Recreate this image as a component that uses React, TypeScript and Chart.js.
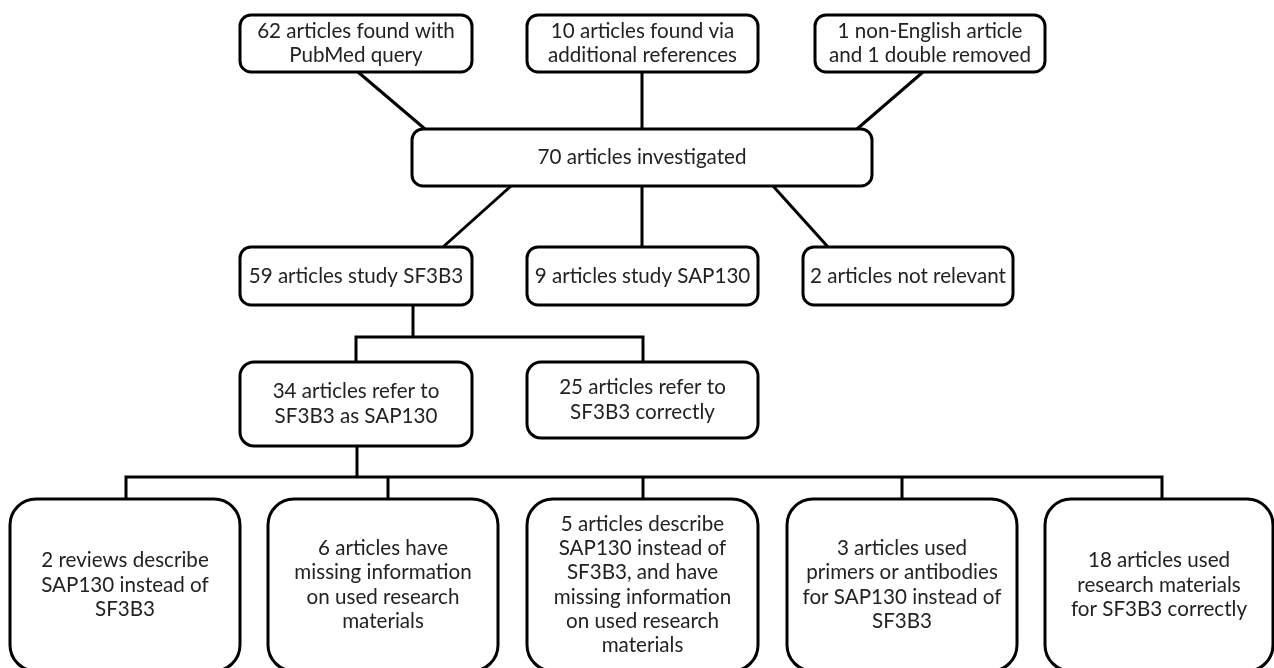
import React, { useEffect, useRef } from "react";
import { Chart, registerables } from "chart.js";

Chart.register(...registerables);

// ---- content ----
const sourceLabels = [
  "62 articles found with\nPubMed query",
  "10 articles found via\nadditional references",
  "1 non-English article\nand 1 double removed",
];
const poolLabel = "70 articles investigated";
const topicLabels = [
  "59 articles study SF3B3",
  "9 articles study SAP130",
  "2 articles not relevant",
];
const namingLabels = [
  "34 articles refer to\nSF3B3 as SAP130",
  "25 articles refer to\nSF3B3 correctly",
];
const outcomeLabels = [
  "2 reviews describe\nSAP130 instead of\nSF3B3",
  "6 articles have\nmissing information\non used research\nmaterials",
  "5 articles describe\nSAP130 instead of\nSF3B3, and have\nmissing information\non used research\nmaterials",
  "3 articles used\nprimers or antibodies\nfor SAP130 instead of\nSF3B3",
  "18 articles used\nresearch materials\nfor SF3B3 correctly",
];

// ---- layout (data units = canvas pixels of the 1274x668 frame) ----
type Box = { x0: number; x1: number; y0: number; y1: number; r: number; text: string };

const boxes: Box[] = [
  { x0: 240, x1: 472, y0: 15, y1: 72, r: 11, text: sourceLabels[0] },
  { x0: 527, x1: 758, y0: 15, y1: 72, r: 11, text: sourceLabels[1] },
  { x0: 815, x1: 1045, y0: 15, y1: 72, r: 11, text: sourceLabels[2] },
  { x0: 412, x1: 872, y0: 129, y1: 186, r: 11, text: poolLabel },
  { x0: 240, x1: 472, y0: 247, y1: 305, r: 11, text: topicLabels[0] },
  { x0: 527, x1: 758, y0: 247, y1: 305, r: 11, text: topicLabels[1] },
  { x0: 803, x1: 1013, y0: 247, y1: 305, r: 11, text: topicLabels[2] },
  { x0: 240, x1: 472, y0: 362, y1: 446, r: 14, text: namingLabels[0] },
  { x0: 527, x1: 758, y0: 362, y1: 438, r: 14, text: namingLabels[1] },
  { x0: 10, x1: 240, y0: 499, y1: 671, r: 26, text: outcomeLabels[0] },
  { x0: 268, x1: 498, y0: 499, y1: 671, r: 26, text: outcomeLabels[1] },
  { x0: 527, x1: 758, y0: 499, y1: 671, r: 26, text: outcomeLabels[2] },
  { x0: 787, x1: 1017, y0: 499, y1: 671, r: 26, text: outcomeLabels[3] },
  { x0: 1045, x1: 1273, y0: 499, y1: 671, r: 26, text: outcomeLabels[4] },
];

const connectors: { x: number; y: number }[][] = [
  [{ x: 358, y: 72 }, { x: 425, y: 129 }],
  [{ x: 642, y: 72 }, { x: 642, y: 129 }],
  [{ x: 923, y: 72 }, { x: 857, y: 129 }],
  [{ x: 511, y: 186 }, { x: 443, y: 247 }],
  [{ x: 642, y: 186 }, { x: 642, y: 247 }],
  [{ x: 773, y: 186 }, { x: 828, y: 247 }],
  [{ x: 413, y: 305 }, { x: 413, y: 337 }],
  [{ x: 356, y: 362 }, { x: 356, y: 337 }, { x: 643, y: 337 }, { x: 643, y: 362 }],
  [{ x: 357, y: 446 }, { x: 357, y: 477 }],
  [{ x: 126, y: 499 }, { x: 126, y: 477 }, { x: 1162, y: 477 }, { x: 1162, y: 499 }],
  [{ x: 388, y: 477 }, { x: 388, y: 499 }],
  [{ x: 643, y: 477 }, { x: 643, y: 499 }],
  [{ x: 902, y: 477 }, { x: 902, y: 499 }],
];

const FONT = '20.6px Lato, "Open Sans", sans-serif';
const LINE_H = 24.3;

const boxPlugin = {
  id: "flowBoxes",
  afterDatasetsDraw(chart: any) {
    const { ctx, scales } = chart;
    const xs = scales.x;
    const ys = scales.y;
    ctx.save();
    for (const b of boxes) {
      const x0 = xs.getPixelForValue(b.x0);
      const x1 = xs.getPixelForValue(b.x1);
      const y0 = ys.getPixelForValue(b.y0);
      const y1 = ys.getPixelForValue(b.y1);
      ctx.beginPath();
      ctx.roundRect(x0, y0, x1 - x0, y1 - y0, b.r);
      ctx.fillStyle = "#ffffff";
      ctx.fill();
      ctx.lineWidth = 3;
      ctx.strokeStyle = "#000000";
      ctx.stroke();
      const lines = b.text.split("\n");
      ctx.font = FONT;
      ctx.fillStyle = "#222222";
      ctx.textAlign = "center";
      ctx.textBaseline = "middle";
      const cx = (x0 + x1) / 2;
      const cy = (y0 + y1) / 2;
      const start = cy - ((lines.length - 1) * LINE_H) / 2;
      lines.forEach((ln, i) => ctx.fillText(ln, cx, start + i * LINE_H));
    }
    ctx.restore();
  },
};

export default function App() {
  const ref = useRef<HTMLCanvasElement | null>(null);
  useEffect(() => {
    if (!ref.current) return;
    const chart = new Chart(ref.current, {
      type: "scatter",
      data: {
        datasets: connectors.map((pts) => ({
          data: pts,
          showLine: true,
          borderColor: "#000000",
          borderWidth: 3,
          pointRadius: 0,
          fill: false,
          tension: 0,
          borderJoinStyle: "miter" as const,
        })),
      },
      options: {
        responsive: false,
        animation: false,
        devicePixelRatio: 1,
        layout: { padding: 0 },
        plugins: { legend: { display: false }, tooltip: { enabled: false } },
        scales: {
          x: { type: "linear", min: 0, max: 1274, display: false },
          y: { type: "linear", min: 0, max: 668, reverse: true, display: false },
        },
      },
      plugins: [boxPlugin],
    });
    return () => chart.destroy();
  }, []);
  return (
    <div style={{ position: "fixed", left: 0, top: 0, width: 1274, height: 668, background: "#fff" }}>
      <canvas ref={ref} width={1274} height={668} style={{ display: "block" }} />
    </div>
  );
}
